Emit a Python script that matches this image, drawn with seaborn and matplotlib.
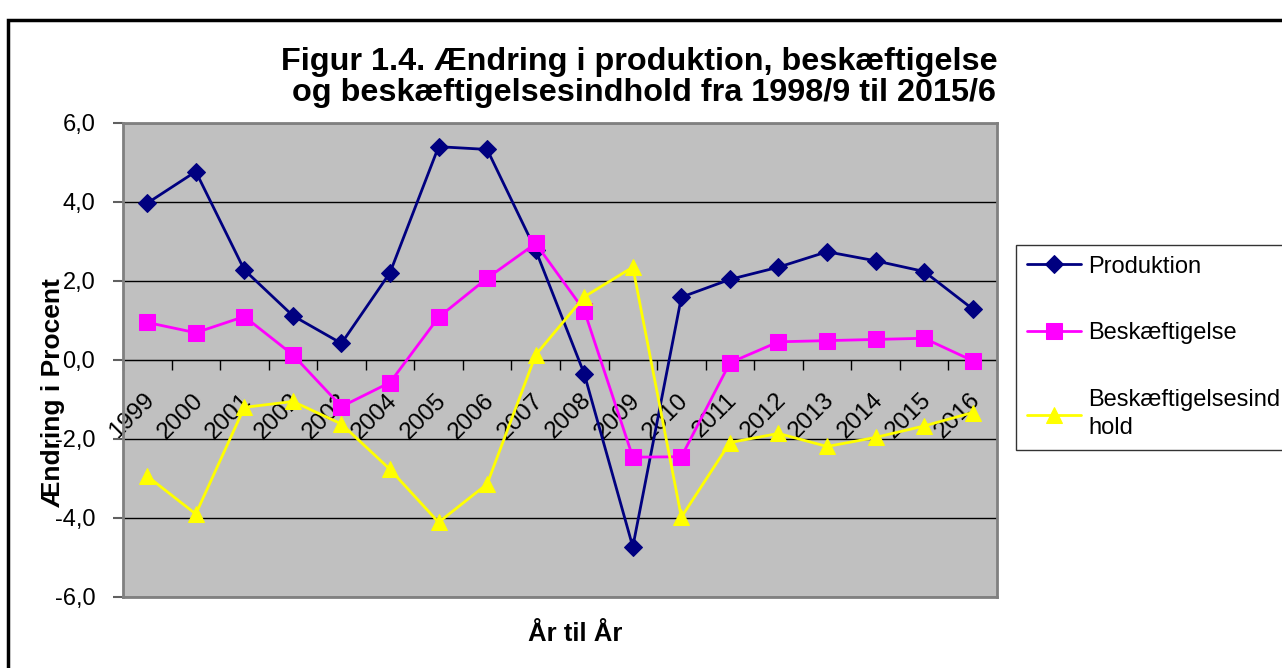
import numpy as np
import pandas as pd
import matplotlib
matplotlib.use('Agg')
import matplotlib.pyplot as plt
import seaborn as sns
from matplotlib.patches import Rectangle

# Data
years = list(range(1999, 2017))
produktion = [3.97, 4.77, 2.28, 1.12, 0.42, 2.21, 5.40, 5.33, 2.78, -0.35,
              -4.73, 1.59, 2.04, 2.35, 2.74, 2.51, 2.24, 1.29]
beskaeftigelse = [0.95, 0.69, 1.10, 0.13, -1.18, -0.57, 1.08, 2.07, 2.95, 1.25,
                  -2.46, -2.45, -0.07, 0.46, 0.49, 0.52, 0.55, -0.02]
indhold = [-2.94, -3.90, -1.20, -1.05, -1.62, -2.77, -4.11, -3.14, 0.13, 1.60,
           2.35, -3.98, -2.09, -1.86, -2.19, -1.96, -1.67, -1.33]
series_names = ['Produktion', 'Beskæftigelse', 'Beskæftigelsesind\nhold']
y_ticks = [-6, -4, -2, 0, 2, 4, 6]

df = pd.DataFrame({'year': years, 'Produktion': produktion,
                   'Beskæftigelse': beskaeftigelse,
                   'Beskæftigelsesind\nhold': indhold})

# Configure plot
sns.set_style('white')
plt.rcParams['font.family'] = ['Liberation Sans', 'DejaVu Sans']
for key in ['text.color', 'axes.labelcolor', 'xtick.color', 'ytick.color']:
    plt.rcParams[key] = 'black'
fig = plt.figure(figsize=(12.82, 6.68), dpi=100)
ax = fig.add_axes([0.0959, 0.1063, 0.6818, 0.7096])
ax.set_facecolor('#C0C0C0')

styles = [('#000080', 'D', 9), ('#FF00FF', 's', 12), ('#FFFF00', '^', 12)]
for name, (color, marker, ms) in zip(series_names, styles):
    sns.lineplot(x='year', y=name, data=df, ax=ax, color=color, marker=marker,
                 markersize=ms, markeredgecolor=color, linewidth=2,
                 label=name, zorder=3)

# Axes limits, grid and frame
ax.set_xlim(years[0] - 0.5, years[-1] + 0.5)
ax.set_ylim(-6, 6)
ax.set_yticks(y_ticks, labels=[f'{v:.1f}'.replace('.', ',') for v in y_ticks])
ax.set_xticks([])
ax.tick_params(axis='y', direction='out', length=7, width=1.5, color='#606060',
               labelsize=17, pad=13, left=True)
ax.yaxis.grid(True, color='black', linewidth=1)
ax.set_axisbelow(True)
for sp in ax.spines.values():
    sp.set_color('#808080')
    sp.set_linewidth(2)
ax.set_xlabel('')
ax.set_ylabel('')

# Category axis crossing at zero
sec = ax.secondary_xaxis(0.5)
sec.xaxis.set_ticks_position('bottom')
sec.set_xticks([y - 0.5 for y in years] + [years[-1] + 0.5], labels=[])
sec.set_xticks([y - 0.08 for y in years], labels=[str(y) for y in years],
               minor=True)
sec.tick_params(which='both', bottom=True, top=False, labelbottom=True,
                labeltop=False)
sec.tick_params(which='major', direction='out', length=7, width=1, color='black')
sec.tick_params(which='minor', length=0, labelsize=17.5, pad=21)
sec.spines['bottom'].set_color('black')
sec.spines['bottom'].set_linewidth(1.2)
for lbl in sec.get_xticklabels(minor=True):
    lbl.set_rotation(45)
    lbl.set_ha('right')
    lbl.set_va('top')
    lbl.set_rotation_mode('anchor')

# Titles and labels
fig.text(0.499, 1 - 47 / 668,
         'Figur 1.4. Ændring i produktion, beskæftigelse\n og beskæftigelsesindhold fra 1998/9 til 2015/6',
         ha='center', va='top', fontsize=23.3, fontweight='bold', linespacing=1.05)
fig.text(53 / 1282, 1 - 393 / 668, 'Ændring i Procent', rotation=90,
         ha='center', va='center', fontsize=19, fontweight='bold')
fig.text(575 / 1282, 1 - 634 / 668, 'År til År', ha='center', va='center',
         fontsize=18.5, fontweight='bold')

# Legend
handles, labels = ax.get_legend_handles_labels()
ax.get_legend().remove()
leg = fig.legend(handles, labels, loc='upper left',
                 bbox_to_anchor=(1016 / 1282, 1 - 245 / 668), fontsize=17,
                 frameon=True, fancybox=False, edgecolor='black',
                 labelspacing=1.9, handlelength=2.3, handletextpad=0.3,
                 borderpad=0.45, borderaxespad=0)
leg.get_frame().set_linewidth(1)
for txt in leg.get_texts():
    txt.set_linespacing(1.35)

# Outer border
fig.patches.append(Rectangle((8 / 1282, -0.1), 1.2, 1.085 - 10 / 668,
                             transform=fig.transFigure, fill=False,
                             edgecolor='black', linewidth=2.5))

plt.savefig('out.png', dpi=100)
